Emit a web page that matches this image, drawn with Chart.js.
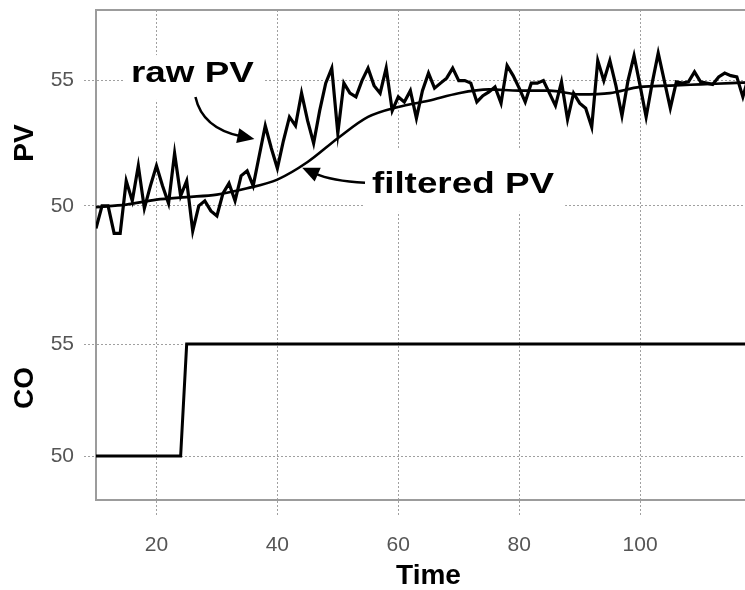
<!DOCTYPE html>
<html>
<head>
<meta charset="utf-8">
<script src="https://cdn.jsdelivr.net/npm/chart.js@4/dist/chart.umd.min.js"></script>
<style>
    html, body { margin: 0; padding: 0; background: #fff; overflow: hidden; }
    #wrap { width: 770px; height: 590px; position: relative; }
</style>
</head>
<body>
<div id="wrap"><canvas id="grafico"></canvas></div>
<script>
// valores
const rawTime = [
    10, 11, 12, 13, 14, 15, 16, 17, 18, 19,
    20, 21, 22, 23, 24, 25, 26, 27, 28, 29,
    30, 31, 32, 33, 34, 35, 36, 37, 38, 39,
    40, 41, 42, 43, 44, 45, 46, 47, 48, 49,
    50, 51, 52, 53, 54, 55, 56, 57, 58, 59,
    60, 61, 62, 63, 64, 65, 66, 67, 68, 69,
    70, 71, 72, 73, 74, 75, 76, 77, 78, 79,
    80, 81, 82, 83, 84, 85, 86, 87, 88, 89,
    90, 91, 92, 93, 94, 95, 96, 97, 98, 99,
    100, 101, 102, 103, 104, 105, 106, 107, 108, 109,
    110, 111, 112, 113, 114, 115, 116, 117, 118, 119, 120
];
const rawPV = [
    49.1, 50.0, 50.0, 48.9, 48.9, 51.0, 50.2, 51.6, 49.9, 50.8,
    51.6, 50.8, 50.1, 52.1, 50.4, 51.0, 49.0, 50.0, 50.2, 49.8,
    49.6, 50.5, 50.9, 50.2, 51.2, 51.4, 50.8, 52.0, 53.2, 52.3,
    51.5, 52.6, 53.55, 53.2, 54.5, 53.4, 52.5, 53.8, 54.9, 55.5,
    52.9, 54.9, 54.5, 54.35, 55.0, 55.5, 54.8, 54.5, 55.5, 53.8,
    54.35, 54.15, 54.6, 53.5, 54.6, 55.3, 54.7, 54.9, 55.1, 55.5,
    55.0, 55.0, 54.9, 54.15, 54.4, 54.55, 54.75, 54.1, 55.6, 55.2,
    54.7, 54.15, 54.9, 54.9, 55.0, 54.5, 54.0, 54.95, 53.45, 54.5,
    54.1, 53.9, 53.15, 55.8, 55.0, 55.8, 54.8, 53.6, 55.0, 56.0,
    54.8, 53.55, 54.9, 56.1, 55.0, 53.9, 54.95, 54.9, 54.95, 55.35,
    54.95, 54.9, 54.85, 55.15, 55.3, 55.2, 55.15, 54.35, 55.2, 55.0, 54.9
];
const filtTime = [10, 15, 20, 25, 30, 35, 40, 45, 50, 55, 60, 65, 70, 75, 80, 85, 90, 95, 100, 105, 110, 115, 120];
const filtPV = [49.95, 50.05, 50.25, 50.35, 50.45, 50.7, 51.05, 51.75, 52.7, 53.55, 53.95, 54.2, 54.5, 54.65, 54.6, 54.6, 54.45, 54.5, 54.75, 54.8, 54.85, 54.9, 54.95];
const coTime = [10, 24, 25, 120];
const coValues = [50, 50, 55, 55];
const xTicks = [20, 40, 60, 80, 100];
const pvTicks = [50, 55];
const coTicks = [50, 55];

function toPoints(xs, ys) {
    return xs.map(function (x, i) { return { x: x, y: ys[i] }; });
}

const gridColor = '#a0a0a0';
const frameColor = '#9c9c9c';
const tickFont = { family: "'Liberation Sans', Arial, sans-serif", size: 21 };
const titleFont = { family: "'Liberation Sans', Arial, sans-serif", size: 28, weight: 'bold', lineHeight: 1 };

// caixas de texto e setas (posições em unidades dos eixos)
const notes = [
    { text: 'raw PV', x: 25.95, y: 55.27, box: [14.5, 37.7, 56.02, 54.23],
      arrow: [[26.45, 54.35], [27.6, 53.1], [36.2, 52.67]] },
    { text: 'filtered PV', x: 70.7, y: 50.84, box: [54.2, 87.6, 52.23, 49.76],
      arrow: [[54.5, 50.92], [49.0, 51.0], [44.1, 51.52]] }
];

const annotations = {
    id: 'annotations',
    beforeDatasetsDraw(chart) {
        const ctx = chart.ctx;
        const xs = chart.scales.x, ys = chart.scales.yPV;
        ctx.save();
        ctx.fillStyle = '#fff';
        notes.forEach(function (n) {
            const x1 = xs.getPixelForValue(n.box[0]), x2 = xs.getPixelForValue(n.box[1]);
            const y1 = ys.getPixelForValue(n.box[2]), y2 = ys.getPixelForValue(n.box[3]);
            ctx.fillRect(x1, y1, x2 - x1, y2 - y1);
        });
        ctx.restore();
    },
    afterDatasetsDraw(chart) {
        const ctx = chart.ctx;
        const xs = chart.scales.x, ys = chart.scales.yPV;
        ctx.save();
        notes.forEach(function (n) {
            // texto esticado na horizontal como no original
            ctx.save();
            ctx.translate(xs.getPixelForValue(n.x), ys.getPixelForValue(n.y));
            ctx.scale(1.27, 1);
            ctx.font = "bold 29px 'Liberation Sans', Arial, sans-serif";
            ctx.fillStyle = '#000';
            ctx.textAlign = 'center';
            ctx.textBaseline = 'middle';
            ctx.fillText(n.text, 0, 0);
            ctx.restore();

            const p = n.arrow.map(function (a) { return [xs.getPixelForValue(a[0]), ys.getPixelForValue(a[1])]; });
            const ang = Math.atan2(p[2][1] - p[1][1], p[2][0] - p[1][0]);
            const headLen = 17, headW = 7.5;
            const bx = p[2][0] - Math.cos(ang) * headLen * 0.8;
            const by = p[2][1] - Math.sin(ang) * headLen * 0.8;
            ctx.strokeStyle = '#000';
            ctx.lineWidth = 2.5;
            ctx.beginPath();
            ctx.moveTo(p[0][0], p[0][1]);
            ctx.quadraticCurveTo(p[1][0], p[1][1], bx, by);
            ctx.stroke();
            ctx.fillStyle = '#000';
            ctx.beginPath();
            ctx.moveTo(p[2][0], p[2][1]);
            ctx.lineTo(p[2][0] - Math.cos(ang) * headLen - Math.sin(ang) * headW,
                       p[2][1] - Math.sin(ang) * headLen + Math.cos(ang) * headW);
            ctx.lineTo(p[2][0] - Math.cos(ang) * headLen + Math.sin(ang) * headW,
                       p[2][1] - Math.sin(ang) * headLen - Math.cos(ang) * headW);
            ctx.closePath();
            ctx.fill();
        });
        ctx.restore();
    }
};

// borda de cima da área do gráfico
const topFrame = {
    id: 'topFrame',
    afterDraw(chart) {
        const a = chart.chartArea, ctx = chart.ctx;
        ctx.save();
        ctx.strokeStyle = frameColor;
        ctx.lineWidth = 2;
        ctx.beginPath();
        ctx.moveTo(a.left - 1, a.top);
        ctx.lineTo(a.right, a.top);
        ctx.stroke();
        ctx.restore();
    }
};

function yScale(ticksList, min, max, weight, title) {
    return {
        type: 'linear',
        position: 'left',
        stack: 'panels',
        stackWeight: weight,
        min: min,
        max: max,
        afterBuildTicks: function (s) { s.ticks = ticksList.map(function (v) { return { value: v }; }); },
        afterFit: function (s) { s.width = 96; s.paddingTop = 0; s.paddingBottom = 0; },
        grid: { color: gridColor, lineWidth: 1, tickLength: 12, tickBorderDash: [2, 2] },
        border: { display: true, color: frameColor, width: 2, dash: [2, 2] },
        ticks: { font: tickFont, color: '#555', padding: 10 },
        title: { display: true, text: title, font: titleFont, color: '#000', padding: { top: 11, bottom: 0 } }
    };
}

const ctx = document.getElementById('grafico').getContext('2d');
new Chart(ctx, {
    type: 'line',
    data: {
        datasets: [
            { label: 'raw PV', data: toPoints(rawTime, rawPV), yAxisID: 'yPV',
              borderColor: '#000', borderWidth: 3.2, pointRadius: 0, tension: 0 },
            { label: 'filtered PV', data: toPoints(filtTime, filtPV), yAxisID: 'yPV',
              borderColor: '#000', borderWidth: 2.6, pointRadius: 0, cubicInterpolationMode: 'monotone' },
            { label: 'CO', data: toPoints(coTime, coValues), yAxisID: 'yCO',
              borderColor: '#000', borderWidth: 3, pointRadius: 0, tension: 0 }
        ]
    },
    options: {
        responsive: true,
        maintainAspectRatio: false,
        animation: false,
        layout: { padding: { top: 10, right: 9, left: 0, bottom: 0 } },
        plugins: {
            legend: { display: false },
            tooltip: { enabled: false }
        },
        scales: {
            x: {
                type: 'linear',
                min: 10,
                max: 120,
                afterBuildTicks: function (s) { s.ticks = xTicks.map(function (v) { return { value: v }; }); },
                afterFit: function (s) { s.height = 90; },
                grid: { color: gridColor, lineWidth: 1, tickLength: 16, tickBorderDash: [2, 2] },
                border: { display: true, color: frameColor, width: 2, dash: [2, 2] },
                ticks: { font: tickFont, color: '#555', padding: 17, maxRotation: 0 },
                title: { display: true, text: 'Time', font: titleFont, color: '#000', padding: { top: 0, bottom: 0 } }
            },
            yCO: yScale(coTicks, 48.04, 58.04, 224, 'CO'),
            yPV: yScale(pvTicks, 47.2, 57.82, 266, 'PV')
        }
    },
    plugins: [annotations, topFrame]
});
</script>
</body>
</html>
